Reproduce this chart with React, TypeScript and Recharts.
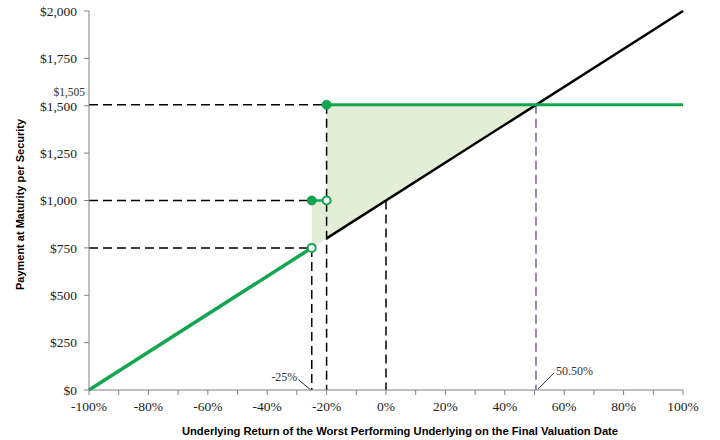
import React from "react";
import {
  ComposedChart,
  Line,
  Area,
  Scatter,
  XAxis,
  YAxis,
  ReferenceLine,
  ReferenceDot,
} from "recharts";

const xTicks = [-100, -90, -80, -70, -60, -50, -40, -30, -20, -10, 0, 10, 20, 30, 40, 50, 60, 70, 80, 90, 100];
const yTicks = [0, 250, 500, 750, 1000, 1250, 1500, 1750, 2000];

const greenLow = [
  { x: -100, y: 0 },
  { x: -25, y: 750 },
];
const greenMid = [
  { x: -25, y: 1000 },
  { x: -20, y: 1000 },
];
const greenHigh = [
  { x: -20, y: 1505 },
  { x: 100, y: 1505 },
];
const blackLine = [
  { x: -20, y: 800 },
  { x: 100, y: 2000 },
];
const shade = [
  { x: -25, range: [750, 1000] },
  { x: -20, range: [800, 1000] },
  { x: -20, range: [800, 1505] },
  { x: 50.5, range: [1505, 1505] },
];
const filledDots = [
  { x: -25, y: 1000 },
  { x: -20, y: 1505 },
];
const openDots = [
  { x: -25, y: 750 },
  { x: -20, y: 1000 },
];
const blackDashes = [
  [{ x: -100, y: 1505 }, { x: -20, y: 1505 }],
  [{ x: -100, y: 1000 }, { x: -25, y: 1000 }],
  [{ x: -100, y: 750 }, { x: -25, y: 750 }],
  [{ x: -25, y: 750 }, { x: -25, y: 0 }],
  [{ x: -20, y: 1505 }, { x: -20, y: 0 }],
  [{ x: 0, y: 1000 }, { x: 0, y: 0 }],
];
const purpleDash = [{ x: 50.5, y: 1505 }, { x: 50.5, y: 0 }];
const leaderLeft = [{ x: -29.5, y: 55 }, { x: -25.3, y: 0 }];
const leaderRight = [{ x: 56.6, y: 90 }, { x: 51.2, y: 5 }];
const capLabel = { x: -100, y: 1505, text: "$1,505" };
const leftNote = { x: -29.5, y: 55, text: "-25%" };
const rightNote = { x: 56.6, y: 90, text: "50.50%" };

const GREEN = "#13a651";
const AXIS = "#808080";
const serif = "'Liberation Serif', 'Times New Roman', serif";
const sans = "'Liberation Sans', Arial, sans-serif";

const fmtY = (v: number) => "$" + v.toLocaleString("en-US");
const fmtX = (v: number) => (v % 20 === 0 ? `${v}%` : "");

const FilledDot = (p: any) => <circle cx={p.cx} cy={p.cy} r={4.5} fill={GREEN} stroke={GREEN} strokeWidth={1} />;
const OpenDot = (p: any) => <circle cx={p.cx} cy={p.cy} r={4} fill="#fff" stroke={GREEN} strokeWidth={2} />;

const YTitle = (props: any) => {
  const vb = props.viewBox;
  const cx = 20;
  const cy = vb.y + vb.height / 2 + 4;
  return (
    <text x={cx} y={cy} transform={`rotate(-90 ${cx} ${cy})`} textAnchor="middle" dominantBaseline="central"
      fontFamily={sans} fontWeight="bold" fontSize={11} fill="#000">
      Payment at Maturity per Security
    </text>
  );
};
const XTitle = (props: any) => {
  const vb = props.viewBox;
  const cx = vb.x + vb.width / 2 + 14;
  return (
    <text x={cx} y={431} textAnchor="middle" dominantBaseline="central"
      fontFamily={sans} fontWeight="bold" fontSize={11.2} fill="#000">
      Underlying Return of the Worst Performing Underlying on the Final Valuation Date
    </text>
  );
};

const noteLabel = (text: string, dx: number, dy: number, anchor: string, size: number) => (props: any) => {
  const vb = props.viewBox;
  const x = vb.x + (vb.width || 0) / 2 + dx;
  const y = vb.y + (vb.height || 0) / 2 + dy;
  return (
    <text x={x} y={y} textAnchor={anchor} dominantBaseline="central" fontFamily={serif} fontSize={size} fill="#333">
      {text}
    </text>
  );
};

export default function App() {
  return (
    <div style={{ position: "absolute", left: 0, top: 0, width: 720, height: 440, background: "#fff" }}>
      <ComposedChart width={720} height={440} margin={{ top: 11, right: 37, bottom: 0, left: 0 }}>
        <XAxis
          type="number"
          dataKey="x"
          domain={[-100, 100]}
          ticks={xTicks}
          tickFormatter={fmtX}
          interval={0}
          height={50}
          stroke={AXIS}
          tickSize={5}
          tickMargin={6}
          tick={{ fontFamily: serif, fontSize: 13.5, fill: "#222" }}
          label={<XTitle />}
        />
        <YAxis
          type="number"
          dataKey="y"
          domain={[0, 2000]}
          ticks={yTicks}
          tickFormatter={fmtY}
          interval={0}
          width={89}
          stroke={AXIS}
          tickSize={5}
          tickMargin={7}
          tick={{ fontFamily: serif, fontSize: 13.5, fill: "#222" }}
          label={<YTitle />}
        />
        <Area
          data={shade}
          dataKey="range"
          type="linear"
          stroke="none"
          fill="#e3eed6"
          fillOpacity={1}
          isAnimationActive={false}
        />
        {blackDashes.map((seg, i) => (
          <ReferenceLine key={i} segment={seg} stroke="#000" strokeWidth={1.5} strokeDasharray="9 5" ifOverflow="visible" />
        ))}
        <ReferenceLine segment={purpleDash} stroke="#7d5f91" strokeWidth={1.5} strokeDasharray="9 5" ifOverflow="visible" />
        <ReferenceLine segment={leaderLeft} stroke="#333" strokeWidth={1} ifOverflow="visible" />
        <ReferenceLine segment={leaderRight} stroke="#333" strokeWidth={1} ifOverflow="visible" />
        <Line data={blackLine} dataKey="y" type="linear" stroke="#000" strokeWidth={2.5} dot={false} isAnimationActive={false} />
        <Line data={greenLow} dataKey="y" type="linear" stroke={GREEN} strokeWidth={3.5} dot={false} isAnimationActive={false} />
        <Line data={greenMid} dataKey="y" type="linear" stroke={GREEN} strokeWidth={2.5} dot={false} isAnimationActive={false} />
        <Line data={greenHigh} dataKey="y" type="linear" stroke={GREEN} strokeWidth={3} dot={false} isAnimationActive={false} />
        <Scatter data={filledDots} dataKey="y" shape={FilledDot} isAnimationActive={false} />
        <Scatter data={openDots} dataKey="y" shape={OpenDot} isAnimationActive={false} />
        <ReferenceDot x={capLabel.x} y={capLabel.y} r={0} stroke="none" ifOverflow="visible"
          label={noteLabel(capLabel.text, -4, -13, "end", 11.5)} />
        <ReferenceDot x={leftNote.x} y={leftNote.y} r={0} stroke="none" ifOverflow="visible"
          label={noteLabel(leftNote.text, -1, -3, "end", 12)} />
        <ReferenceDot x={rightNote.x} y={rightNote.y} r={0} stroke="none" ifOverflow="visible"
          label={noteLabel(rightNote.text, 2, -2, "start", 12)} />
      </ComposedChart>
    </div>
  );
}
